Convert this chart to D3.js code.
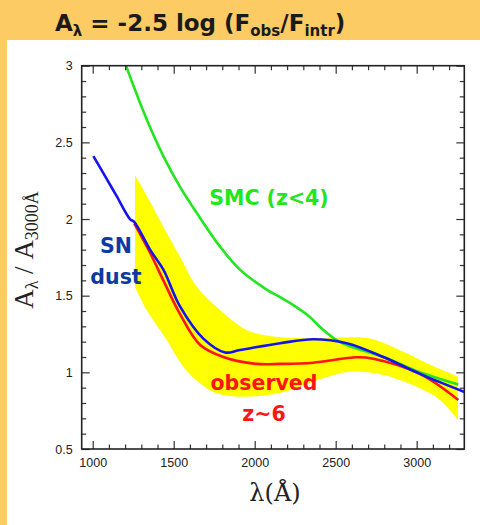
<!DOCTYPE html>
<html>
<head>
<meta charset="utf-8">
<script src="https://cdn.jsdelivr.net/npm/d3@7"></script>
<style>
  body { margin: 0; background: #fdcb64; }
  svg { display: block; }
</style>
</head>
<body>
<div class="chart"></div>
<script>
// wavelength (Angstrom) and A_lambda / A_3000
const smcLam = [1195, 1333, 1436, 1539, 1642, 1786, 1909, 2074, 2157, 2250, 2330, 2420, 2506, 2588, 2794, 3020, 3257]
const smcVal = [3.03, 2.65, 2.41, 2.21, 2.04, 1.82, 1.67, 1.54, 1.49, 1.43, 1.37, 1.28, 1.21, 1.17, 1.10, 1.00, 0.92]

const snLam = [1004, 1086, 1148, 1230, 1257, 1354, 1436, 1539, 1683, 1817, 1909, 2157, 2362, 2568, 2794, 3020, 3295]
const snVal = [2.41, 2.262, 2.149, 2.00, 1.98, 1.80, 1.67, 1.43, 1.22, 1.13, 1.146, 1.19, 1.216, 1.19, 1.10, 0.99, 0.872]

const obsLam = [1257, 1354, 1436, 1539, 1662, 1806, 2012, 2157, 2360, 2630, 2732, 3020, 3257]
const obsVal = [1.97, 1.78, 1.60, 1.38, 1.18, 1.10, 1.055, 1.055, 1.063, 1.098, 1.089, 0.99, 0.82]

// yellow uncertainty band
const bandTopLam = [1261, 1350, 1436, 1539, 1642, 1786, 1951, 2115, 2383, 2630, 2732, 2938, 3062, 3255]
const bandTopVal = [2.287, 2.12, 1.95, 1.754, 1.559, 1.407, 1.276, 1.233, 1.222, 1.229, 1.216, 1.124, 1.059, 0.972]
const bandLowLam = [1261, 1333, 1457, 1559, 1662, 1765, 1930, 2156, 2423, 2588, 2794, 3000, 3144, 3255]
const bandLowVal = [1.557, 1.407, 1.211, 1.037, 0.929, 0.863, 0.841, 0.865, 0.961, 1.004, 0.983, 0.906, 0.82, 0.69]

const xTicks = [1000, 1500, 2000, 2500, 3000]
const yTicks = [0.5, 1, 1.5, 2, 2.5, 3]

const W = 480, H = 525
const box = {left: 81.7, right: 464.3, top: 65.7, bottom: 449}

const svg = d3.select(".chart").append("svg")
    .attr("width", W)
    .attr("height", H)

// page: orange header band, white card
svg.append("rect").attr("width", W).attr("height", H).attr("fill", "#fdcb64")
svg.append("rect").attr("x", 7).attr("y", 40).attr("width", W - 7).attr("height", H - 40).attr("fill", "white")

const x = d3.scaleLinear().domain([932, 3294]).range([box.left, box.right])
const y = d3.scaleLinear().domain([0.5, 3]).range([box.bottom, box.top])

const zip = (a, b) => a.map((v, i) => [v, b[i]])

svg.append("clipPath").attr("id", "plot")
  .append("rect")
    .attr("x", box.left).attr("y", box.top)
    .attr("width", box.right - box.left).attr("height", box.bottom - box.top)

const g = svg.append("g").attr("clip-path", "url(#plot)")

const line = d3.line()
    .curve(d3.curveCatmullRom)
    .x(d => x(d[0]))
    .y(d => y(d[1]))

// band outline: top edge forward, bottom edge back
const lowRev = zip(bandLowLam, bandLowVal).reverse()
g.append("path")
    .attr("d", line(zip(bandTopLam, bandTopVal)) + "L" + line(lowRev).slice(1) + "Z")
    .attr("fill", "#ffff00")

const curves = [
  {lam: smcLam, val: smcVal, color: "#22e61e"},
  {lam: obsLam, val: obsVal, color: "#ff1414"},
  {lam: snLam, val: snVal, color: "#1414f0"}
]
curves.forEach(c => {
  g.append("path")
      .attr("d", line(zip(c.lam, c.val)))
      .attr("fill", "none")
      .attr("stroke", c.color)
      .attr("stroke-width", 2.6)
      .attr("stroke-linejoin", "round")
})

// axes, ticks pointing inward on all four sides
const minorX = d3.range(1000, 3300, 100).filter(v => !xTicks.includes(v))
const minorY = d3.range(0.6, 3, 0.1).map(v => +v.toFixed(1)).filter(v => !yTicks.includes(v))

function axisPair(axis, scale, major, minor, translate, labels) {
  const a = svg.append("g").attr("transform", translate)
  a.call(axis(scale).tickValues(major).tickSize(-8).tickPadding(9)
      .tickFormat(labels ? d3.format("") : () => ""))
  a.append("g").call(axis(scale).tickValues(minor).tickSize(-4.5).tickFormat(() => ""))
      .call(s => s.select(".domain").remove())
  a.selectAll(".domain").remove()
  a.selectAll("line").attr("stroke", "#333").attr("stroke-width", 1.2)
  a.selectAll("text").attr("font-family", "Liberation Sans, Arial, sans-serif")
      .attr("font-size", 12.5).attr("fill", "#222")
  return a
}
axisPair(d3.axisBottom, x, xTicks, minorX, `translate(0,${box.bottom})`, true)
axisPair(d3.axisTop, x, xTicks, minorX, `translate(0,${box.top})`, false)
axisPair(d3.axisLeft, y, yTicks, minorY, `translate(${box.left},0)`, true)
axisPair(d3.axisRight, y, yTicks, minorY, `translate(${box.right},0)`, false)

svg.append("rect")
    .attr("x", box.left).attr("y", box.top)
    .attr("width", box.right - box.left).attr("height", box.bottom - box.top)
    .attr("fill", "none").attr("stroke", "#222").attr("stroke-width", 1.6)

// axis titles
svg.append("text")
    .attr("x", (box.left + box.right) / 2 + 2).attr("y", 501)
    .attr("text-anchor", "middle")
    .attr("font-family", "DejaVu Serif, Liberation Serif, serif")
    .attr("font-size", 24)
    .attr("fill", "#222")
    .text("λ(Å)")

const yt = svg.append("text")
    .attr("transform", "translate(33,250) rotate(-90)")
    .attr("text-anchor", "middle")
    .attr("font-family", "Liberation Serif, DejaVu Serif, serif")
    .attr("font-size", 27)
    .attr("fill", "#222")
yt.append("tspan").text("A")
yt.append("tspan").attr("font-size", 18).attr("dy", 5).text("λ")
yt.append("tspan").attr("dy", -5).text(" / A")
yt.append("tspan").attr("font-size", 18).attr("dy", 5).text("3000Å")

// annotations
const hand = "'Comic Sans MS', 'DejaVu Sans', sans-serif"
const notes = [
  {text: ["SMC (z<4)"], x: 269, y: 205, color: "#22e61e"},
  {text: ["SN", "dust"], x: 116, y: 253, color: "#0d3aa0"},
  {text: ["observed", "z~6"], x: 264, y: 390, color: "#ff1414"}
]
notes.forEach(n => {
  n.text.forEach((t, i) => {
    svg.append("text")
        .attr("x", n.x).attr("y", n.y + i * 31)
        .attr("text-anchor", "middle")
        .attr("font-family", hand)
        .attr("font-weight", "bold")
        .attr("font-size", 20.5)
        .attr("fill", n.color)
        .text(t)
  })
})

// header formula
const hd = svg.append("text")
    .attr("x", 55).attr("y", 31)
    .attr("font-family", hand)
    .attr("font-weight", "bold")
    .attr("font-size", 23)
    .attr("fill", "#1a1a1a")
hd.append("tspan").text("A")
hd.append("tspan").attr("font-size", 15).attr("dy", 5).text("λ")
hd.append("tspan").attr("dy", -5).text(" = -2.5 log (F")
hd.append("tspan").attr("font-size", 15).attr("dy", 5).text("obs")
hd.append("tspan").attr("dy", -5).text("/F")
hd.append("tspan").attr("font-size", 15).attr("dy", 5).text("intr")
hd.append("tspan").attr("dy", -5).text(")")
</script>
</body>
</html>
